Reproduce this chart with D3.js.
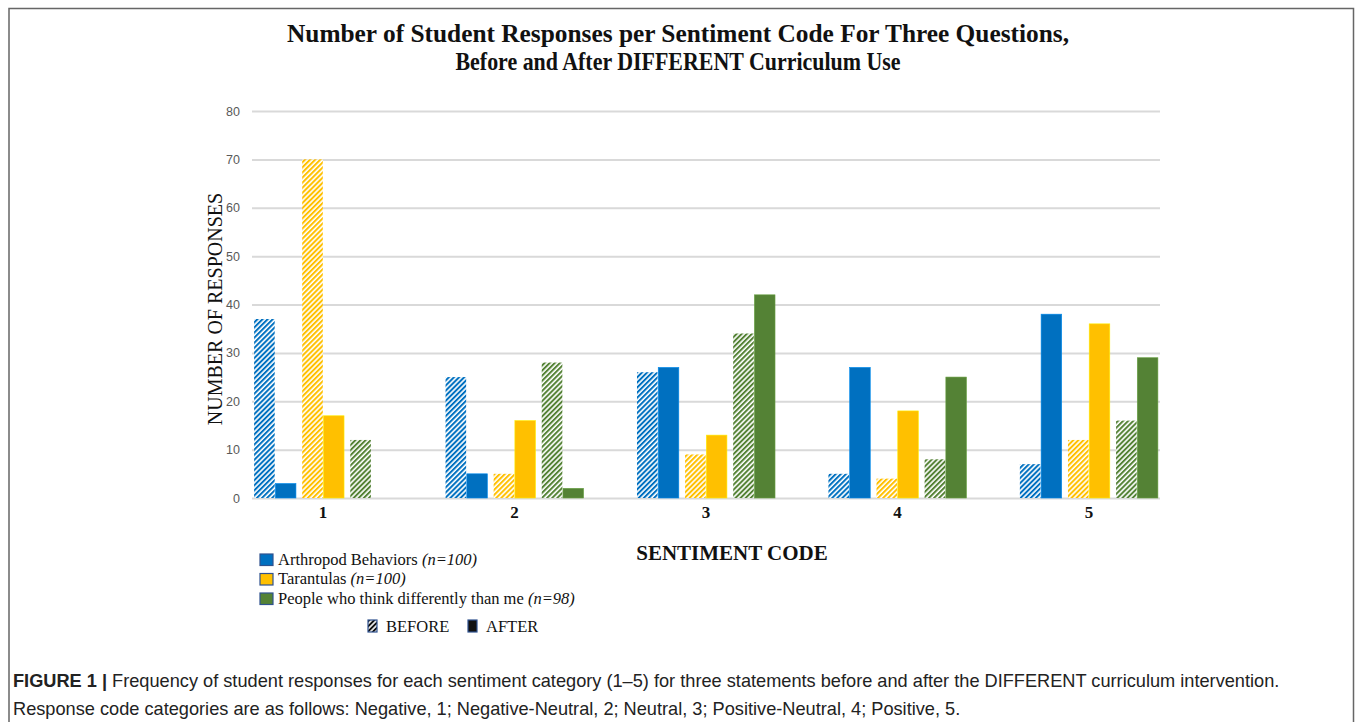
<!DOCTYPE html>
<html>
<head>
<meta charset="utf-8">
<script src="https://cdn.jsdelivr.net/npm/d3@7/dist/d3.min.js"></script>
<style>
  body { margin: 0; background: #fff; }
  svg { display: block; }
</style>
</head>
<body>
<div id="chart"></div>
<script>
// sentiment codes on the x axis
const codes = ['1', '2', '3', '4', '5'];
// the three questions (series)
const questions = ['Arthropod Behaviors', 'Tarantulas', 'People who think differently than me'];
const sampleSizes = ['(n=100)', '(n=100)', '(n=98)'];
// responses per code, before and after the curriculum
const beforeArthropod = [37, 25, 26, 5, 7];
const afterArthropod = [3, 5, 27, 27, 38];
const beforeTarantulas = [70, 5, 9, 4, 12];
const afterTarantulas = [17, 16, 13, 18, 36];
const beforePeople = [12, 28, 34, 8, 16];
const afterPeople = [0, 2, 42, 25, 29];
const yTicks = [0, 10, 20, 30, 40, 50, 60, 70, 80];
const phases = ['BEFORE', 'AFTER'];

const colors = ['#0070c0', '#ffc000', '#548235'];
const beforeValues = [beforeArthropod, beforeTarantulas, beforePeople];
const afterValues = [afterArthropod, afterTarantulas, afterPeople];

const width = 1355;
const height = 722;
const serif = "'Liberation Serif', 'Times New Roman', serif";
const sans = "'Liberation Sans', Arial, sans-serif";

const svg = d3.select('#chart')
  .append('svg')
    .attr('width', width)
    .attr('height', height);

svg.append('rect')
  .attr('width', width)
  .attr('height', height)
  .attr('fill', '#fff');

// frame round the figure (open at the bottom)
svg.append('path')
  .attr('d', 'M9,722V8.5H1353.5V722')
  .attr('fill', 'none')
  .attr('stroke', '#666')
  .attr('stroke-width', 1.5);

// hatch patterns for the "before" bars
const defs = svg.append('defs');
const hatchColors = colors.concat(['#111']);
hatchColors.forEach((color, i) => {
  const p = defs.append('pattern')
    .attr('id', `hatch-${i}`)
    .attr('patternUnits', 'userSpaceOnUse')
    .attr('width', 3.6)
    .attr('height', 3.6)
    .attr('patternTransform', 'rotate(45)');
  p.append('rect').attr('width', 3.6).attr('height', 3.6).attr('fill', '#fff');
  p.append('rect').attr('width', 2).attr('height', 3.6).attr('fill', color);
});

// title (condensed bold serif)
const title = ['Number of Student Responses per Sentiment Code For Three Questions,',
  'Before and After DIFFERENT Curriculum Use'];
const titleWidths = [782, 445];
svg.append('g')
  .selectAll('text')
  .data(title)
  .enter()
  .append('text')
    .attr('x', 678)
    .attr('y', (d, i) => 42 + i * 28)
    .attr('text-anchor', 'middle')
    .attr('textLength', (d, i) => titleWidths[i])
    .attr('lengthAdjust', 'spacingAndGlyphs')
    .attr('font-family', serif)
    .attr('font-weight', 'bold')
    .attr('font-size', 26)
    .attr('fill', '#111')
    .text(d => d);

// scales
const plot = { left: 252, right: 1160, top: 111, bottom: 498 };
const x0 = d3.scaleBand()
  .domain(codes)
  .range([plot.left, plot.right])
  .paddingInner(0.279)
  .paddingOuter(0.011);
const x1 = d3.scaleBand()
  .domain(questions)
  .range([0, x0.bandwidth()])
  .paddingInner(0.13);
const x2 = d3.scaleBand()
  .domain(phases)
  .range([0, x1.bandwidth()])
  .paddingInner(0.03);
const y = d3.scaleLinear()
  .domain([0, 80])
  .range([plot.bottom, plot.top]);

// y axis with grid lines
const yAxis = svg.append('g')
  .attr('transform', `translate(${plot.left},0)`)
  .call(d3.axisLeft(y).tickValues(yTicks).tickSize(-(plot.right - plot.left)).tickPadding(12));
yAxis.select('.domain').remove();
yAxis.selectAll('.tick line')
  .attr('stroke', '#d9d9d9')
  .attr('stroke-width', 2);
yAxis.selectAll('.tick text')
  .attr('font-family', sans)
  .attr('font-size', 12.5)
  .attr('fill', '#595959');

// bars
const rows = [];
questions.forEach((q, qi) => {
  codes.forEach((c, ci) => {
    rows.push({ q, qi, c, phase: 'BEFORE', value: beforeValues[qi][ci] });
    rows.push({ q, qi, c, phase: 'AFTER', value: afterValues[qi][ci] });
  });
});

svg.append('g')
  .selectAll('rect')
  .data(rows.filter(d => d.value > 0))
  .enter()
  .append('rect')
    .attr('x', d => x0(d.c) + x1(d.q) + x2(d.phase))
    .attr('y', d => y(d.value))
    .attr('width', x2.bandwidth())
    .attr('height', d => y(0) - y(d.value))
    .attr('fill', d => (d.phase === 'BEFORE' ? `url(#hatch-${d.qi})` : colors[d.qi]))
    .attr('stroke', d => (d.phase === 'BEFORE' ? 'none' : d3.color(colors[d.qi]).brighter(0.6)))
    .attr('stroke-width', 0.6);

// x axis labels
const xAxis = svg.append('g')
  .attr('transform', `translate(0,${plot.bottom})`)
  .call(d3.axisBottom(x0).tickSize(0).tickPadding(8));
xAxis.select('.domain').remove();
xAxis.selectAll('.tick text')
  .attr('font-family', serif)
  .attr('font-weight', 'bold')
  .attr('font-size', 17)
  .attr('fill', '#111');

// axis titles
svg.append('text')
  .attr('transform', 'translate(222,309) rotate(-90)')
  .attr('text-anchor', 'middle')
  .attr('font-family', serif)
  .attr('font-size', 20)
  .attr('fill', '#111')
  .text('NUMBER OF RESPONSES');

svg.append('text')
  .attr('x', 732)
  .attr('y', 560)
  .attr('text-anchor', 'middle')
  .attr('font-family', serif)
  .attr('font-weight', 'bold')
  .attr('font-size', 21)
  .attr('fill', '#111')
  .text('SENTIMENT CODE');

// series legend
const legend = svg.append('g')
  .selectAll('g')
  .data(questions)
  .enter()
  .append('g')
    .attr('transform', (d, i) => `translate(260,${554 + i * 19.5})`);
legend.append('rect')
  .attr('width', 13)
  .attr('height', 11.5)
  .attr('fill', (d, i) => colors[i])
  .attr('stroke', '#2f528f')
  .attr('stroke-width', 1.2);
const legendText = legend.append('text')
  .attr('x', 18)
  .attr('y', 10.5)
  .attr('font-family', serif)
  .attr('font-size', 16.5)
  .attr('fill', '#111');
legendText.append('tspan').text(d => `${d} `);
legendText.append('tspan')
  .attr('font-style', 'italic')
  .text((d, i) => sampleSizes[i]);

// before / after key
const phaseKey = svg.append('g')
  .selectAll('g')
  .data(phases)
  .enter()
  .append('g')
    .attr('transform', (d, i) => `translate(${368 + i * 100},620)`);
phaseKey.append('rect')
  .attr('width', 9)
  .attr('height', 12)
  .attr('fill', d => (d === 'BEFORE' ? 'url(#hatch-3)' : '#111'))
  .attr('stroke', '#2f528f')
  .attr('stroke-width', 1.2);
phaseKey.append('text')
  .attr('x', 18)
  .attr('y', 12)
  .attr('font-family', serif)
  .attr('font-size', 16.5)
  .attr('fill', '#111')
  .text(d => d);

// caption
const caption = svg.append('g')
  .attr('font-family', sans)
  .attr('font-size', 18.2)
  .attr('fill', '#222');
const line1 = caption.append('text')
  .attr('x', 13)
  .attr('y', 687);
line1.append('tspan')
  .attr('font-weight', 'bold')
  .text('FIGURE 1 | ');
line1.append('tspan')
  .text('Frequency of student responses for each sentiment category (1–5) for three statements before and after the DIFFERENT curriculum intervention.');
caption.append('text')
  .attr('x', 13)
  .attr('y', 715)
  .text('Response code categories are as follows: Negative, 1; Negative-Neutral, 2; Neutral, 3; Positive-Neutral, 4; Positive, 5.');
</script>
</body>
</html>
